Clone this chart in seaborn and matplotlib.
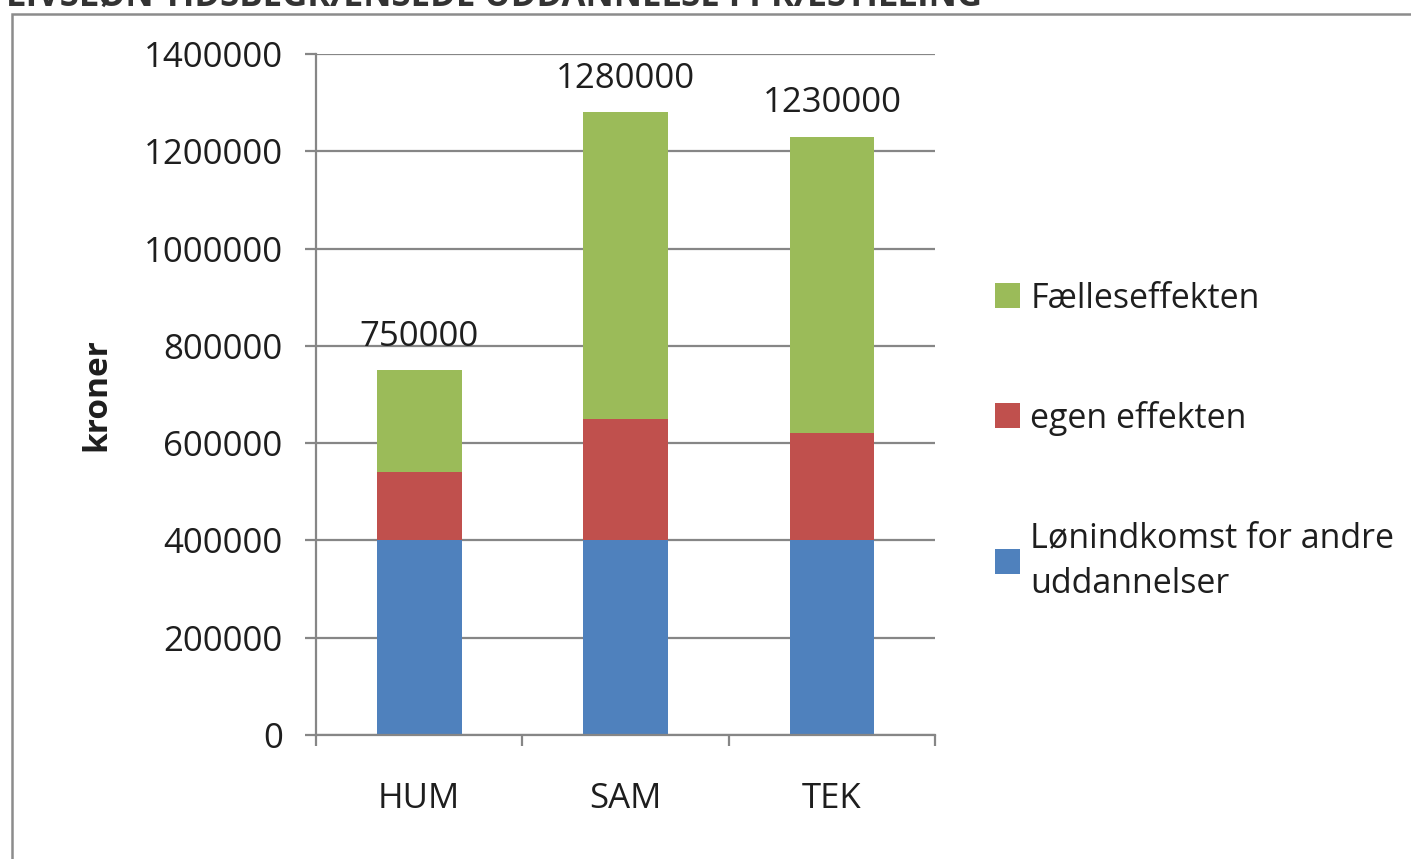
import pandas as pd
import numpy as np
import matplotlib
matplotlib.use("Agg")
import matplotlib.pyplot as plt
import seaborn as sns
from matplotlib.patches import Rectangle, Patch

# data
categories = ["HUM", "SAM", "TEK"]
lon_andre = [400000, 400000, 400000]
egen_effekt = [140000, 250000, 220000]
faelles_effekt = [210000, 630000, 610000]
totals = [750000, 1280000, 1230000]
series_names = ["Lønindkomst for andre\nuddannelser", "egen effekten", "Fælleseffekten"]
y_ticks = [0, 200000, 400000, 600000, 800000, 1000000, 1200000, 1400000]

colors = ["#4F81BD", "#C0504D", "#9BBB59"]
grid_col = "#868686"
txt_col = "#1e1e1e"
fs = 25

sns.set_theme(style="white")
plt.rcParams["font.family"] = ["Open Sans", "DejaVu Sans"]

df = pd.DataFrame({
    "kategori": categories,
    "lon": lon_andre,
    "egen": egen_effekt,
    "faelles": faelles_effekt,
})

fig = plt.figure(figsize=(14.11, 8.59), dpi=100)
ax = fig.add_axes([0.224, 0.1444, 0.4387, 0.7927])

bottom = np.zeros(len(df))
for col, c in zip(["lon", "egen", "faelles"], colors):
    sns.barplot(data=df, x="kategori", y=col, order=categories, color=c,
                width=0.41, bottom=bottom, ax=ax, saturation=1, linewidth=0)
    bottom = bottom + df[col].values

ax.bar_label(ax.containers[-1], labels=[str(t) for t in totals],
             padding=12, fontsize=fs, color=txt_col)

ax.set_xlim(-0.5, 2.5)
ax.set_ylim(0, 1400000)
ax.set_yticks(y_ticks)
ax.set_yticklabels([str(v) for v in y_ticks])
ax.yaxis.grid(True, color=grid_col, linewidth=1.6)
ax.set_axisbelow(True)
for s in ["top", "right"]:
    ax.spines[s].set_visible(False)
for s in ["left", "bottom"]:
    ax.spines[s].set_color(grid_col)
    ax.spines[s].set_linewidth(1.6)

ax.set_xticks([0, 1, 2])
ax.set_xticklabels(categories)
ax.set_xticks([-0.5, 0.5, 1.5, 2.5], minor=True)
ax.tick_params(axis="x", which="major", length=0, pad=34, labelsize=fs, labelcolor=txt_col)
ax.tick_params(axis="x", which="minor", length=8, width=1.6, color=grid_col, direction="out", bottom=True)
ax.tick_params(axis="y", length=8, width=1.6, color=grid_col, direction="out", left=True,
               pad=16, labelsize=fs, labelcolor=txt_col)
ax.set_xlabel("")
ax.set_ylabel("kroner", fontsize=fs - 1, fontweight="bold", color=txt_col, labelpad=22)

handles = [Patch(facecolor=colors[i], edgecolor="none") for i in [2, 1, 0]]
labels = [series_names[i] for i in [2, 1, 0]]
leg = fig.legend(handles, labels, loc="upper left", bbox_to_anchor=(0.705, 0.672),
                 frameon=False, fontsize=fs - 0.5, handlelength=0.75, handleheight=0.75,
                 handletextpad=0.3, labelspacing=2.5, borderpad=0, borderaxespad=0,
                 labelcolor=txt_col)
for t in leg.get_texts():
    t.set_linespacing(1.45)

# outer chart border
fig.patches.append(Rectangle((12 / 1411, -0.1), 1.2, 1.1 - 14 / 859, transform=fig.transFigure,
                             fill=False, edgecolor="#8c8c8c", linewidth=1.8))

# title, clipped at top of picture like in the reference
fig.text(0.004, 1 - 7 / 859, "LIVSLØN TIDSBEGRÆNSEDE UDDANNELSE I PRÆSTILLING",
         fontsize=fs, fontweight="bold", color="#333333", va="baseline", ha="left")

fig.savefig("out.png", dpi=100)
